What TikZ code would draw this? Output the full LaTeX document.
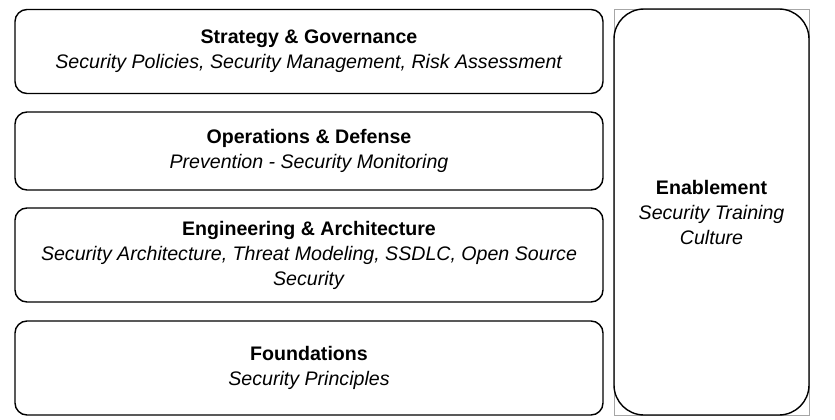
\documentclass[tikz,border=0pt]{standalone}
\usepackage{fontspec}
\setmainfont{Liberation Sans}
\begin{document}
\begin{tikzpicture}[x=1pt, y=-1pt,
    every node/.style={font=\fontsize{19.6}{25}\selectfont, align=center, inner sep=0pt},
    layer/.style={draw, rounded corners=12pt, line width=1.4pt, minimum width=588pt},
    pillar/.style={draw, rounded corners=30pt, line width=1.4pt, minimum width=195pt, minimum height=406pt}]
  \useasboundingbox (0,0) rectangle (835,420);
  \node (strategy) at (309,51.5) [layer, minimum height=84pt] {\textbf{Strategy \& Governance}\\ \textit{Security Policies, Security Management, Risk Assessment}};
  \node (operations) at (309,151) [layer, minimum height=78pt] {\textbf{Operations \& Defense}\\ \textit{Prevention - Security Monitoring}};
  \node (engineering) at (309,255) [layer, minimum height=94pt] {\textbf{Engineering \& Architecture}\\ \textit{Security Architecture, Threat Modeling, SSDLC, Open Source}\\ \textit{Security}};
  \node (foundations) at (309,368) [layer, minimum height=94pt] {\textbf{Foundations}\\ \textit{Security Principles}};
  \draw[gray!70, line width=0.8pt] (614,9) rectangle (809,415);
  \node (enablement) at (711.5,212) [pillar] {\textbf{Enablement}\\ \textit{Security Training}\\ \textit{Culture}};
\end{tikzpicture}
\end{document}
